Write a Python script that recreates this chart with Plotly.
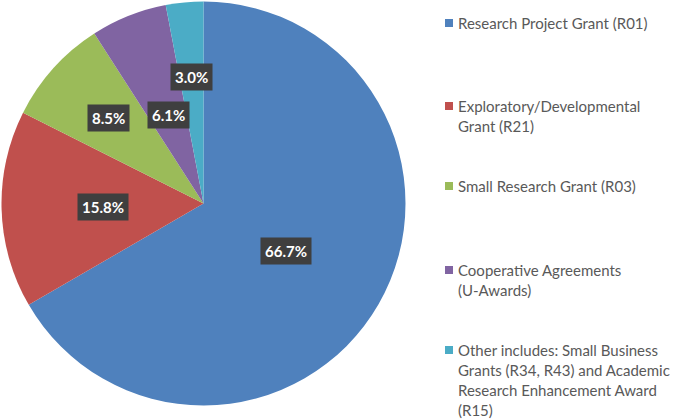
import math
import plotly.graph_objects as go

categories = [
    "Research Project Grant (R01)",
    "Exploratory/Developmental<br>Grant (R21)",
    "Small Research Grant (R03)",
    "Cooperative Agreements<br>(U-Awards)",
    "Other includes: Small Business<br>Grants (R34, R43) and Academic<br>Research Enhancement Award<br>(R15)",
]
values = [66.7, 15.8, 8.5, 6.1, 3.0]
percent_labels = ["66.7%", "15.8%", "8.5%", "6.1%", "3.0%"]

colors = ["#4F81BD", "#C0504D", "#9BBB59", "#8064A2", "#4BACC6"]
label_radius = [0.47, 0.5, 0.63, 0.47, 0.63]

W, H = 674, 420
cx, cy, R = 203.5, 203.5, 202.0
FONT = "Lato, Open Sans, sans-serif"

fig = go.Figure(go.Pie(
    labels=[c.replace("<br>", " ") for c in categories],
    values=values,
    sort=False,
    direction="clockwise",
    rotation=0,
    textinfo="none",
    hoverinfo="label+percent",
    marker=dict(colors=colors, line=dict(width=0)),
    domain=dict(x=[(cx - R) / W, (cx + R) / W], y=[1 - (cy + R) / H, 1 - (cy - R) / H]),
    showlegend=False,
))

annotations = []
total = sum(values)
cum = 0.0
for v, lab, f in zip(values, percent_labels, label_radius):
    mid = (cum + v / 2) / total * 2 * math.pi
    cum += v
    px = cx + f * R * math.sin(mid)
    py = cy - f * R * math.cos(mid)
    annotations.append(dict(
        x=px / W, y=1 - py / H, xref="paper", yref="paper",
        xanchor="center", yanchor="middle",
        text="<b>" + lab + "</b>", showarrow=False,
        font=dict(family=FONT, size=15, color="white"),
        bgcolor="#3F3F3F", borderpad=4,
    ))

# legend
legend_y = [23, 106, 186, 270, 350]
line_gap = 20
shapes = []
for cat, col, ly in zip(categories, colors, legend_y):
    shapes.append(dict(type="rect", xref="paper", yref="paper",
                       x0=445 / W, x1=453 / W, y0=1 - (ly + 4) / H, y1=1 - (ly - 4) / H,
                       fillcolor=col, line=dict(width=0)))
    for i, line in enumerate(cat.split("<br>")):
        annotations.append(dict(
            x=457 / W, y=1 - (ly + i * line_gap) / H, xref="paper", yref="paper",
            xanchor="left", yanchor="middle", align="left", showarrow=False,
            text=line, borderpad=0,
            font=dict(family=FONT, size=15, color="#595959"),
        ))

fig.update_layout(
    width=W, height=H,
    margin=dict(l=0, r=0, t=0, b=0),
    paper_bgcolor="white",
    annotations=annotations,
    shapes=shapes,
)

fig.write_html("out.html", config={"displayModeBar": False},
               post_script="document.body.style.margin='0';document.body.style.overflow='hidden';")
